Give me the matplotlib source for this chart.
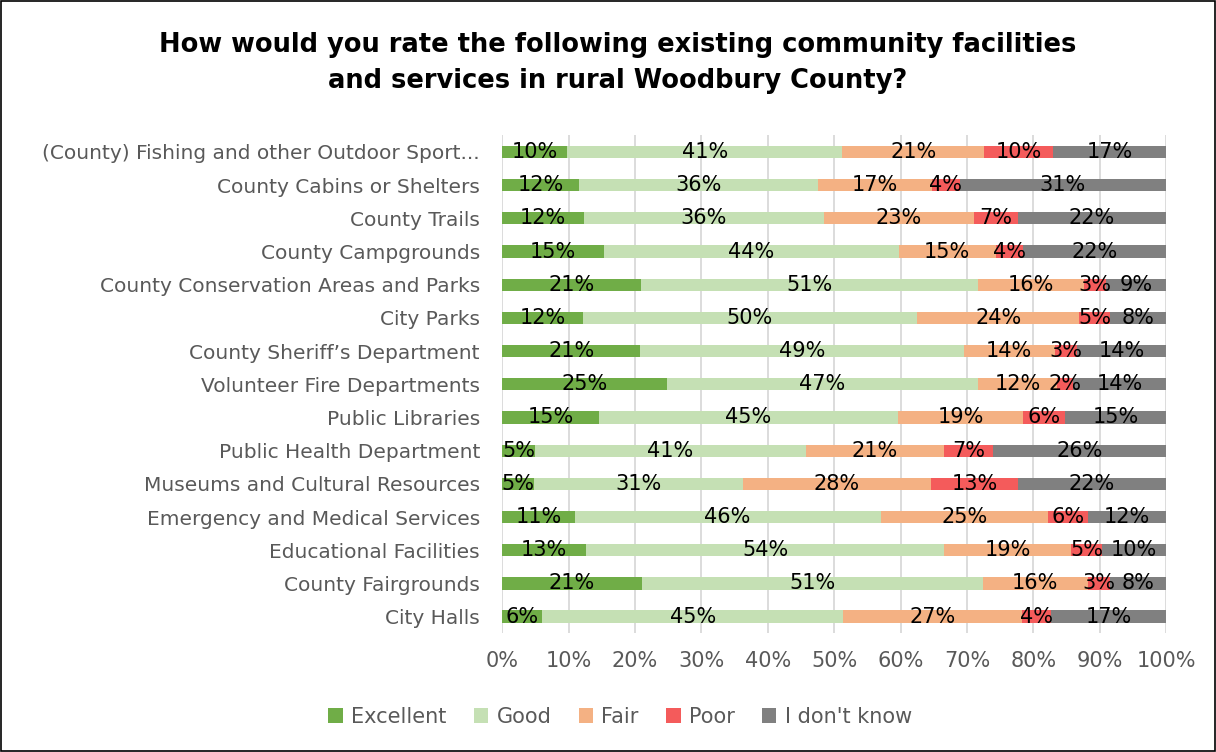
import numpy as np
import matplotlib
matplotlib.use('Agg')
import matplotlib.pyplot as plt

# categories listed top to bottom
facilities = [
    '(County) Fishing and other Outdoor Sport...',
    'County Cabins or Shelters',
    'County Trails',
    'County Campgrounds',
    'County Conservation Areas and Parks',
    'City Parks',
    "County Sheriff\u2019s Department",
    'Volunteer Fire Departments',
    'Public Libraries',
    'Public Health Department',
    'Museums and Cultural Resources',
    'Emergency and Medical Services',
    'Educational Facilities',
    'County Fairgrounds',
    'City Halls',
]

excellent = [9.8, 11.6, 12.3, 15.3, 20.9, 12.1, 20.8, 24.8, 14.6, 4.9, 4.8, 10.9, 12.6, 21.0, 6.0]
good      = [41.4, 36.0, 36.1, 44.4, 50.8, 50.4, 48.7, 46.8, 45.0, 40.8, 31.4, 46.1, 54.0, 51.4, 45.4]
fair      = [21.4, 17.1, 22.7, 14.6, 15.9, 24.4, 13.7, 12.0, 18.9, 20.8, 28.4, 25.2, 19.1, 15.8, 26.9]
poor      = [10.3, 4.2, 6.6, 4.1, 3.3, 4.7, 3.3, 2.4, 6.3, 7.4, 13.1, 6.1, 4.6, 3.4, 4.3]
dont_know = [17.1, 31.1, 22.3, 21.6, 9.1, 8.4, 13.5, 14.0, 15.2, 26.1, 22.3, 11.7, 9.7, 8.4, 17.4]

series = ['Excellent', 'Good', 'Fair', 'Poor', "I don't know"]
colors = ['#70AD47', '#C5E0B4', '#F4B183', '#F45B5B', '#808080']
values = [excellent, good, fair, poor, dont_know]

fig = plt.figure(figsize=(12.16, 7.52), dpi=100)
ax = fig.add_axes([0.413, 0.158, 0.546, 0.662])

y = np.arange(len(facilities))[::-1]
left = np.zeros(len(facilities))
for name, col, vals in zip(series, colors, values):
    vals = np.array(vals)
    ax.barh(y, vals, left=left, height=0.37, color=col, label=name, zorder=2)
    for yi, l, v in zip(y, left, vals):
        ax.text(l + v / 2, yi, f'{v:.0f}%', ha='center', va='center',
                fontsize=15, color='black', zorder=3)
    left += vals

ax.set_xlim(0, 100)
ax.set_ylim(-0.5, len(facilities) - 0.5)
ax.set_xticks(np.arange(0, 101, 10))
ax.set_xticklabels([f'{t}%' for t in range(0, 101, 10)])
ax.set_yticks(y)
ax.set_yticklabels(facilities)
ax.tick_params(axis='both', length=0, labelsize=15, labelcolor='#595959')
ax.tick_params(axis='y', labelsize=14.5, pad=16)
ax.tick_params(axis='x', pad=13)
ax.grid(axis='x', color='#D9D9D9', linewidth=1.3, zorder=0)
for s in ax.spines.values():
    s.set_visible(False)

fig.suptitle('How would you rate the following existing community facilities\nand services in rural Woodbury County?',
             x=0.508, y=0.958, fontsize=18.5, fontweight='bold', linespacing=1.5)

fig.legend(loc='center', bbox_to_anchor=(0.51, 0.047), ncol=5, frameon=False,
           fontsize=15, labelcolor='#595959', handlelength=0.7, handleheight=0.7,
           handletextpad=0.4, columnspacing=1.3)

# thin frame around the whole picture
fig.patches.append(plt.Rectangle((0.001, 0.001), 0.998, 0.998, transform=fig.transFigure,
                                 fill=False, edgecolor='black', linewidth=1.2))

fig.savefig('out.png', dpi=100)
